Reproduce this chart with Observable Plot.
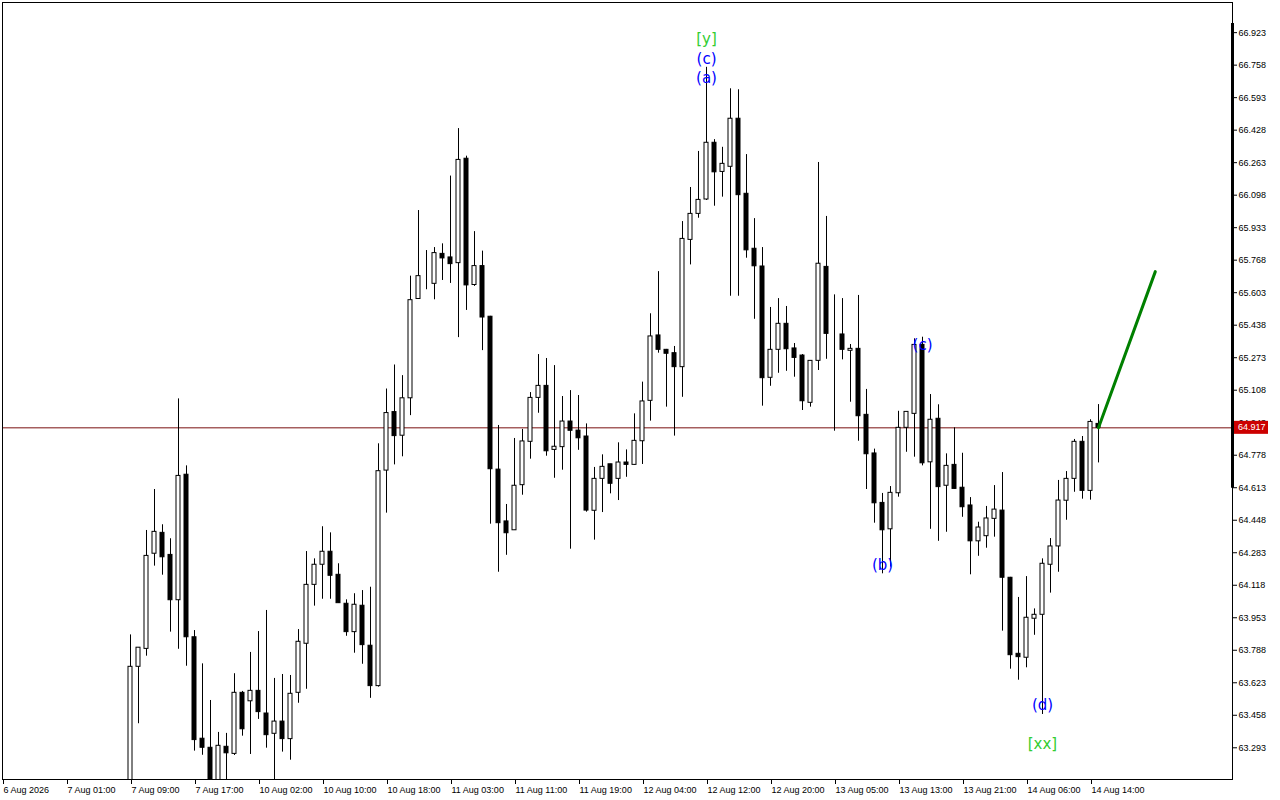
<!DOCTYPE html>
<html><head><meta charset="utf-8">
<script src="https://cdn.jsdelivr.net/npm/d3@7"></script>
<script src="https://cdn.jsdelivr.net/npm/@observablehq/plot@0.6"></script>
<style>
html,body{margin:0;padding:0;background:#fff;}
#chart svg{display:block;}
</style></head><body><div id="chart"></div>
<script>
// Hourly candles, bar 0 = 7 Aug 09:00
const open = [
62.975,63.704,63.795,64.278,64.384,64.272,64.042,64.679,63.854,63.339,
63.293,63.076,63.298,63.262,63.572,63.529,63.582,63.467,63.364,63.426,
63.337,63.572,63.821,64.120,64.222,64.288,64.171,64.024,63.880,64.014,
63.811,63.606,64.700,64.997,64.877,65.067,65.571,65.693,65.648,65.800,
65.782,65.753,66.283,65.642,65.738,65.481,64.705,64.442,64.397,64.626,
64.846,65.069,65.130,64.805,64.819,64.949,64.903,64.873,64.496,64.658,
64.732,64.658,64.741,64.729,64.849,65.054,65.386,65.313,65.296,65.225,
65.871,66.003,66.076,66.364,66.216,66.242,66.486,66.105,65.826,65.736,
65.171,65.313,65.445,65.320,65.284,65.044,65.257,65.734,65.391,65.391,
65.308,65.318,64.983,64.787,64.536,64.402,64.585,64.917,64.988,65.338,
64.742,64.963,64.623,64.729,64.613,64.523,64.341,64.367,64.455,64.497,
64.156,63.770,63.750,63.948,63.968,64.222,64.315,64.547,64.658,64.846,
64.597,64.937];
const high = [
63.866,63.801,64.396,64.604,64.425,64.354,65.064,64.724,63.888,63.719,
63.533,63.371,63.366,63.669,63.579,63.777,63.883,63.990,63.645,63.665,
63.660,63.893,64.289,64.252,64.415,64.384,64.227,64.044,64.075,64.091,
64.108,64.836,65.114,65.236,65.182,65.687,66.020,65.817,65.832,65.851,
66.195,66.436,66.296,65.913,65.814,65.483,64.929,64.528,64.863,64.909,
65.096,65.289,65.269,65.233,65.076,65.106,65.081,64.937,64.716,64.780,
64.732,64.841,64.805,64.988,65.149,65.496,65.710,65.315,65.330,65.964,
66.137,66.320,66.747,66.380,66.341,66.638,66.633,66.304,65.979,65.832,
65.528,65.573,65.533,65.345,65.289,65.257,66.264,65.990,65.592,65.573,
65.340,65.589,65.112,64.809,64.584,64.619,65.001,64.998,65.369,65.377,
65.086,65.034,64.785,64.917,64.788,64.563,64.438,64.518,64.624,64.690,
64.158,64.056,64.162,63.998,64.252,64.355,64.650,64.695,64.858,64.873,
64.958,65.035];
const low = [
62.924,63.415,63.758,64.215,64.169,63.880,63.793,63.707,63.276,63.255,
63.025,63.025,63.076,63.254,63.352,63.259,63.437,63.291,63.076,63.271,
63.230,63.519,63.590,64.012,64.047,64.047,64.027,63.859,63.773,63.717,
63.544,63.601,64.484,64.729,64.770,64.979,65.571,65.618,65.567,65.665,
65.650,65.375,65.513,65.635,65.309,64.428,64.184,64.270,64.397,64.575,
64.758,64.991,64.773,64.661,64.702,64.301,64.803,64.489,64.347,64.487,
64.582,64.548,64.666,64.727,64.731,64.951,65.296,65.022,64.875,65.072,
65.744,65.981,66.071,66.042,66.088,65.585,65.585,65.778,65.468,65.027,
65.128,65.194,65.204,65.174,65.005,65.022,65.208,65.265,64.900,65.262,
65.047,64.849,64.604,64.433,64.176,64.210,64.565,64.793,64.768,64.724,
64.402,64.341,64.387,64.605,64.463,64.171,64.265,64.306,64.362,63.885,
63.692,63.636,63.699,63.864,63.462,64.078,64.184,64.448,64.590,64.555,
64.550,64.739];
const close = [
63.704,63.801,64.267,64.389,64.260,64.042,64.673,63.854,63.332,63.293,
63.076,63.303,63.265,63.572,63.387,63.582,63.474,63.357,63.426,63.337,
63.567,63.831,64.120,64.222,64.288,64.166,64.027,63.880,64.019,63.814,
63.606,64.697,64.992,64.875,65.067,65.565,65.687,65.693,65.804,65.777,
65.748,66.277,65.640,65.738,65.477,64.707,64.433,64.382,64.623,64.848,
65.069,65.130,64.798,64.821,64.949,64.902,64.864,64.497,64.658,64.719,
64.633,64.741,64.729,64.851,65.051,65.381,65.313,65.293,65.225,65.876,
66.003,66.074,66.364,66.214,66.257,66.486,66.098,65.818,65.737,65.169,
65.313,65.445,65.316,65.272,65.052,65.257,65.750,65.394,65.391,65.313,
65.318,64.976,64.783,64.534,64.397,64.587,64.917,64.998,65.338,64.737,
64.958,64.616,64.724,64.607,64.514,64.341,64.411,64.457,64.502,64.156,
63.763,63.753,63.953,63.968,64.227,64.315,64.548,64.658,64.846,64.597,
64.947,64.917];

const yTicks = [66.923,66.758,66.593,66.428,66.263,66.098,65.933,65.768,65.603,65.438,65.273,65.108,64.943,64.778,64.613,64.448,64.283,64.118,63.953,63.788,63.623,63.458,63.293];
const xTickBars = [-16,-8,0,8,16,24,32,40,48,56,64,72,80,88,96,104,112,120];
const xTickLabels = ["6 Aug 2026","7 Aug 01:00","7 Aug 09:00","7 Aug 17:00","10 Aug 02:00","10 Aug 10:00","10 Aug 18:00","11 Aug 03:00","11 Aug 11:00","11 Aug 19:00","12 Aug 04:00","12 Aug 12:00","12 Aug 20:00","13 Aug 05:00","13 Aug 13:00","13 Aug 21:00","14 Aug 06:00","14 Aug 14:00"];
const lastPrice = 64.917;
const projBars = [121, 128.1];
const projPrices = [64.917, 65.71];
const scaleBar = [64.61, 66.97];
const waveText  = ["[y]","(c)","(a)","(b)","(c)","(d)","[xx]"];
const waveBar   = [72, 72, 72, 94, 99, 114, 114];
const wavePrice = [66.892, 66.786, 66.694, 64.218, 65.335, 63.508, 63.313];
const waveColor = ["#32cd32","#0000ff","#0000ff","#0000ff","#0000ff","#0000ff","#32cd32"];
const xDomain = [-16, 137.75];
const yDomain = [63.132, 67.076];

const candles = open.map((o, i) => ({i, o, h: high[i], l: low[i], c: close[i]}));
const labels = waveText.map((t, k) => ({t, bar: waveBar[k], price: wavePrice[k], color: waveColor[k]}));
const proj = projBars.map((b, k) => ({bar: b, price: projPrices[k]}));

const plot = Plot.plot({
  width: 1280, height: 800,
  marginLeft: 2, marginRight: 48, marginTop: 2, marginBottom: 21,
  style: {fontFamily: "Liberation Sans", fontSize: "9px", background: "#fff", color: "#000"},
  x: {type: "linear", domain: xDomain, axis: null},
  y: {type: "linear", domain: yDomain, axis: null},
  marks: [
    Plot.ruleY([lastPrice], {stroke: "#7a1010", strokeWidth: 1}),
    Plot.ruleX(candles, {x: "i", y1: "l", y2: "h", stroke: "#000", strokeWidth: 1, clip: true}),
    Plot.rect(candles, {x1: d => d.i - 0.5, x2: d => d.i + 0.5, y1: "o", y2: "c", insetLeft: 2, insetRight: 2,
      fill: d => d.c >= d.o ? "#fff" : "#000", stroke: "#000", strokeWidth: 1, clip: true}),
    Plot.line(proj, {x: "bar", y: "price", stroke: "#008000", strokeWidth: 3, clip: true}),
    Plot.text(labels, {x: "bar", y: "price", text: "t", fill: "color", fontSize: 15, fontFamily: "DejaVu Sans"}),
    Plot.frame({stroke: "#000"}),
    Plot.ruleX([xDomain[1]], {y1: scaleBar[0], y2: scaleBar[1], stroke: "#000", strokeWidth: 3}),
    Plot.axisY(yTicks, {anchor: "right", tickSize: 4, tickPadding: 2, tickFormat: d => d.toFixed(3), fontSize: 9}),
    Plot.axisX(xTickBars, {anchor: "bottom", tickSize: 5, tickPadding: 2, textAnchor: "start", dx: 1,
      tickFormat: d => xTickLabels[xTickBars.indexOf(d)], fontSize: 9})
  ]
});

// current price tag on the right scale
const ys = plot.scale("y");
const py = ys.apply(lastPrice);
const svg = d3.select(plot);
const g = svg.append("g");
g.append("rect").attr("x", 1234).attr("y", py - 6.5).attr("width", 34).attr("height", 13).attr("fill", "#cc0000");
g.append("text").attr("x", 1238).attr("y", py).attr("dy", "0.35em").attr("fill", "#fff")
  .attr("text-anchor", "start")
  .attr("font-family", "Liberation Sans").attr("font-size", 9).text(lastPrice.toFixed(3));

document.getElementById("chart").appendChild(plot);
</script>
</body></html>
